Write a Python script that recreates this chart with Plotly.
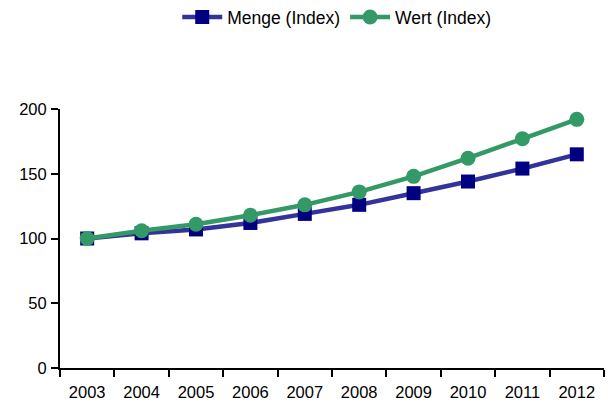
import plotly.graph_objects as go

years = ["2003", "2004", "2005", "2006", "2007", "2008", "2009", "2010", "2011", "2012"]
menge = [100, 104, 107, 112, 119, 126, 135, 144, 154, 165]
wert = [100, 106, 111, 118, 126, 136, 148, 162, 177, 192]

fig = go.Figure()
fig.add_trace(go.Scatter(
    x=years, y=menge, name="Menge (Index)", mode="lines+markers",
    line=dict(color="#333399", width=4.5),
    marker=dict(symbol="square", size=14, color="#000080"),
))
fig.add_trace(go.Scatter(
    x=years, y=wert, name="Wert (Index)", mode="lines+markers",
    line=dict(color="#339966", width=4.5),
    marker=dict(symbol="circle", size=15, color="#339966"),
))

fig.update_layout(
    width=613, height=402,
    margin=dict(l=60, r=9, t=109, b=34, autoexpand=False),
    paper_bgcolor="white", plot_bgcolor="white",
    font=dict(family="Liberation Sans, Arial, sans-serif", size=16.5, color="black"),
    showlegend=True,
    legend=dict(orientation="h", x=0.2155, xanchor="left", y=1.355, yanchor="middle",
                font=dict(size=17.5), itemwidth=40, tracegroupgap=0),
    xaxis=dict(
        type="category", range=[-0.5, 9.5], showline=True, linecolor="black", linewidth=2,
        ticks="outside", tickson="boundaries", ticklen=7, tickcolor="black", tickwidth=2,
        ticklabelstandoff=8, showgrid=False, zeroline=False,
    ),
    yaxis=dict(
        range=[0, 200], tickvals=[0, 50, 100, 150, 200], showline=True, linecolor="black",
        linewidth=2, ticks="outside", ticklen=7, tickcolor="black", tickwidth=2,
        ticklabelstandoff=1, showgrid=False, zeroline=False,
    ),
)

fig.write_html("out.html", config={"displayModeBar": False},
               post_script="document.body.style.margin='0';")
